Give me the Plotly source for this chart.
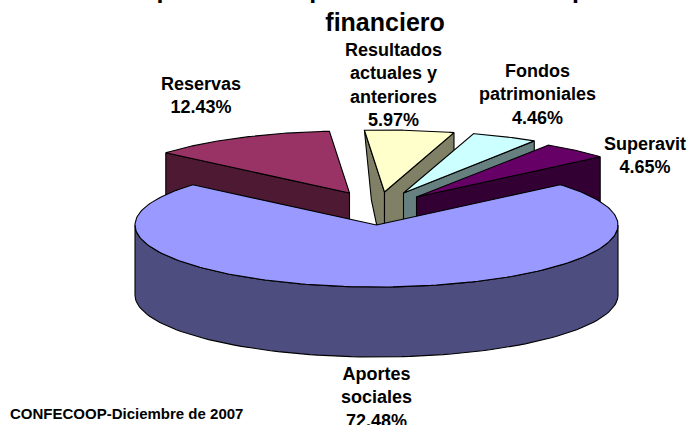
import math
import plotly.graph_objects as go

# Data
categories = ["Aportes sociales", "Reservas", "Resultados actuales y anteriores", "Fondos patrimoniales", "Superavit"]
values = [72.48, 12.43, 5.97, 4.46, 4.65]
label_text = ["Aportes<br>sociales", "Reservas", "Resultados<br>actuales y<br>anteriores", "Fondos<br>patrimoniales", "Superavit"]

# Styles
top_colors = ["#9999FF", "#993366", "#FFFFCC", "#CCFFFF", "#660066"]
side_colors = ["#4D4D80", "#4D1933", "#808066", "#668080", "#330033"]

# Layout of the 3D pie, in page pixels
W, H = 687, 425
CX, CY, RX, RY, DEPTH = 376.5, 225, 241.5, 62, 70
explode = [(0, 0), (-27, -32), (8, -33), (27, -32), (40, -28)]
wall_lean = [0, 0, 7, 0, 0]
label_pos = [(376, 397), (201, 95), (393, 85), (537, 94), (645, 155)]

total = sum(values)
start = 180 - values[0] / total * 180
spans = []
a = start
for v in values:
    b = a + v / total * 360
    spans.append((a, b))
    a = b


def pt(i, ang, dz=0):
    ox, oy = explode[i]
    r = math.radians(ang)
    return (CX + ox + RX * math.sin(r), CY + oy - RY * math.cos(r) + dz)


def arc(i, a0, a1, dz=0, n=90):
    return [pt(i, a0 + (a1 - a0) * k / n, dz) for k in range(n + 1)]


def apex(i, dz=0):
    return (CX + explode[i][0], CY + explode[i][1] + dz)


fig = go.Figure()


def poly(points, color, name):
    xs = [p[0] for p in points] + [points[0][0]]
    ys = [p[1] for p in points] + [points[0][1]]
    fig.add_trace(go.Scatter(x=xs, y=ys, mode="lines", fill="toself", fillcolor=color,
                             line=dict(color="#000000", width=1.1), name=name,
                             hoverinfo="skip", showlegend=False))


def radial_wall(i, ang, lean=0):
    bx, by = pt(i, ang, DEPTH)
    poly([pt(i, ang), apex(i), apex(i, DEPTH), (bx + lean, by)], side_colors[i], categories[i])


# Exploded slices, back to front
for i in [1, 2, 3, 4]:
    a0, b0 = spans[i]
    if i == 1 or i == 2:
        radial_wall(i, a0, wall_lean[i])
    if i != 1:
        radial_wall(i, b0)
    poly([apex(i)] + arc(i, a0, b0), top_colors[i], categories[i])

# Main slice: outer side then top
a0, b0 = spans[0]
poly(arc(0, 90, 270) + arc(0, 270, 90, DEPTH), side_colors[0], categories[0])
poly([apex(0)] + arc(0, a0, b0, n=200), top_colors[0], categories[0])

FONT = "Liberation Sans, Arial, sans-serif"
ann = []
for name, v, (x, y) in zip(label_text, values, label_pos):
    ann.append(dict(text=f"<b>{name}<br>{v:.2f}%</b>", x=x, y=y, xref="x", yref="y", showarrow=False,
                    xanchor="center", yanchor="middle", align="center",
                    font=dict(family=FONT, size=18, color="#000000")))
ann.append(dict(text="<b>CONFECOOP-Diciembre de 2007</b>", x=8, y=413, xref="x", yref="y", showarrow=False,
                xanchor="left", yanchor="middle", font=dict(family=FONT, size=15, color="#000000")))
ann.append(dict(text="<b>Composición del patrimonio sector cooperativo<br>financiero</b>", x=385, y=5.5,
                xref="x", yref="y", showarrow=False, xanchor="center", yanchor="middle", align="center",
                font=dict(family=FONT, size=25, color="#000000")))

fig.update_layout(
    width=W, height=H, autosize=False,
    margin=dict(l=0, r=0, t=0, b=0),
    paper_bgcolor="#FFFFFF", plot_bgcolor="#FFFFFF",
    xaxis=dict(range=[0, W], visible=False, fixedrange=True),
    yaxis=dict(range=[H, 0], visible=False, fixedrange=True),
    annotations=ann,
)

fig.write_html("out.html", config={"displayModeBar": False},
               post_script="document.body.style.margin='0';document.body.style.overflow='hidden';")
